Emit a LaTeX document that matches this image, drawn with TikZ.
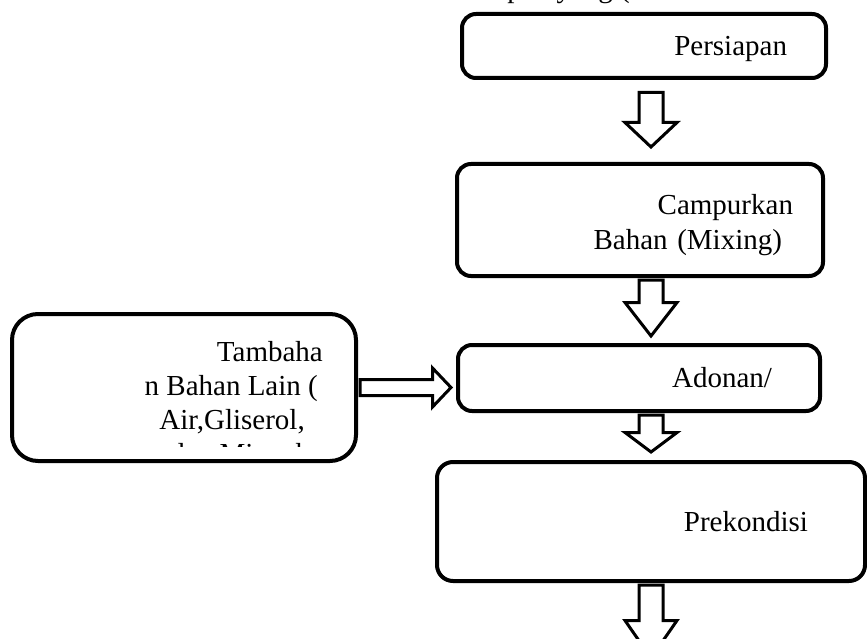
\documentclass[tikz,border=0pt]{standalone}
\usepackage{fontspec}
\setmainfont{Liberation Serif}
\usetikzlibrary{calc}

\tikzset{
  stepbox/.style={draw, line width=4pt, rounded corners=14pt, inner ysep=0pt,
    align=right, font=\fontsize{29}{33.5}\selectfont},
  lbl/.style={inner sep=0pt, align=right, font=\fontsize{29}{33.5}\selectfont},
  fatarrow/.style={draw, fill=white, line width=3pt, line join=miter, miter limit=10}
}

\newcommand{\downblock}[3][24]{%
  \draw[fatarrow] let \p1=(#2), \p2=(#3) in
    (\x1-12pt,\y1) -- (\x1-12pt,\y2+#1pt) -- (\x1-26pt,\y2+#1pt) -- (\x1,\y2)
    -- (\x1+26pt,\y2+#1pt) -- (\x1+12pt,\y2+#1pt) -- (\x1+12pt,\y1) -- cycle;}
\newcommand{\rightblock}[3][18.5]{%
  \draw[fatarrow] let \p1=(#2), \p2=(#3) in
    (\x1,\y1-8pt) -- (\x2-#1pt,\y1-8pt) -- (\x2-#1pt,\y1-19.5pt) -- (\x2,\y1)
    -- (\x2-#1pt,\y1+19.5pt) -- (\x2-#1pt,\y1+8pt) -- (\x1,\y1+8pt) -- cycle;}

\begin{document}
\begin{tikzpicture}[x=1pt,y=-1pt]
  \useasboundingbox (0,0) rectangle (867,639);
  \node[lbl, anchor=base east] (judul) at (630,-2.5) {tahapan yang (};
  \node[stepbox, minimum width=364pt, minimum height=64pt, text width=286pt,
    inner xsep=39pt, text depth=0pt] (p1) at (644,46) {Persiapan};
  \node[stepbox, minimum width=366pt, minimum height=112pt, text width=306pt,
    inner xsep=30pt, font=\fontsize{29}{35}\selectfont] (p2) at (640,220)
    {\rule{0pt}{31pt}Campurkan\\Bahan (Mixing)\kern11pt};
  \node[stepbox, minimum width=362pt, minimum height=66pt, text width=266pt,
    inner xsep=48pt] (p3) at (639,378) {Adonan/};
  \node[stepbox, minimum width=428pt, minimum height=119pt, text width=314pt,
    inner xsep=57pt, rounded corners=16pt] (p4) at (651,521.5) {Prekondisi};
  \node[stepbox, minimum width=344pt, minimum height=147pt, rounded corners=26pt]
    (tb) at (184,387.5) {};
  \begin{scope}
    \clip (tb.north west) rectangle ($(tb.south east)+(0,-17)$);
    \node[lbl, anchor=north east, font=\fontsize{29}{34}\selectfont] (tbteks) at (323,341)
      {Tambaha\\n Bahan Lain (\kern5pt\\Air,Gliserol,\kern18pt\\dan Minyak\kern13pt};
  \end{scope}
  \coordinate (akhir) at ($(p4.south)+(0,75)$);
  \downblock[24.5]{$(p4 |- p1.south)+(0,12.5)$}{$(p4 |- p2.north)+(0,-15)$}
  \downblock[33.5]{$(p4 |- p2.south)+(0,2)$}{$(p4 |- p3.north)+(0,-7)$}
  \downblock[19.5]{$(p4 |- p3.south)+(0,2)$}{$(p4.north)+(0,-8)$}
  \downblock[37.5]{$(p4.south)+(0,2)$}{akhir}
  \rightblock{$(tb.east)+(2,0)$}{$(tb.east -| p3.west)+(-5,0)$}
\end{tikzpicture}
\end{document}
